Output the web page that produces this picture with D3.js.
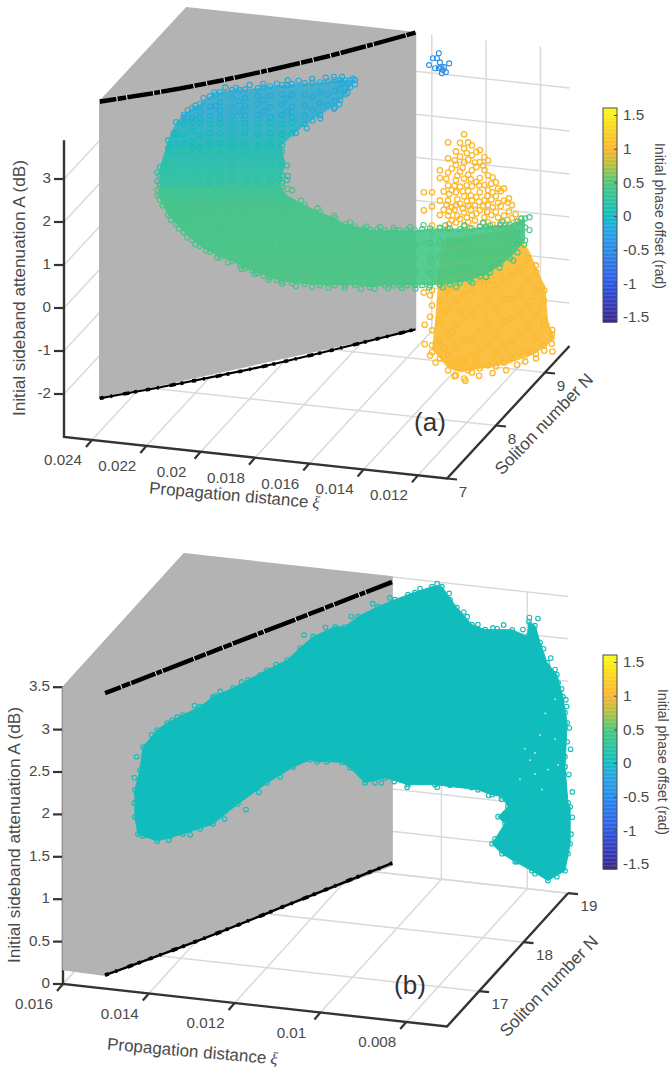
<!DOCTYPE html>
<html>
<head>
<meta charset="utf-8">
<script src="https://cdn.jsdelivr.net/npm/d3@7"></script>
<style>
	html, body { margin: 0; padding: 0; background: #fff; }
	text { font-family: "Liberation Sans", Arial, sans-serif; fill: #4a4a4a; }
</style>
</head>
<body>
<svg id="chart" width="670" height="1074"></svg>
<script>
// tick labels
var aXiTicks = [0.024, 0.022, 0.02, 0.018, 0.016, 0.014, 0.012];
var aNTicks = [7, 8, 9];
var aATicks = [-2, -1, 0, 1, 2, 3];
var bXiTicks = [0.016, 0.014, 0.012, 0.01, 0.008];
var bNTicks = [17, 18, 19];
var bATicks = [0, 0.5, 1, 1.5, 2, 2.5, 3, 3.5];
var colorbarTicks = [-1.5, -1, -0.5, 0, 0.5, 1, 1.5];

// colormap, phase -> colour
var phaseStops = [-1.6, -1.5, -1, -0.5, -0.15, 0, 0.25, 0.5, 0.75, 1, 1.25, 1.6];
var phaseColors = ['#352a87', '#38299a', '#2f58e4', '#2b8aec', '#22a9df', '#0fbcbe', '#2cc4a0', '#4cc87a', '#b4c042', '#fbb62e', '#fbd024', '#f9fb15'];

// (a) grey shadow sheet and the two black curves: [xi, N, A]
var aGrey = [[0.02503, 7.73, 3.9], [0.02503, 9.5, 3.9], [0.0166, 9.5, 3.9], [0.0166, 9.5, -3], [0.02503, 7.73, -3]];
var aBlackTop = [[0.02503, 7.73, 3.9], [0.02292, 8.17, 3.8], [0.02082, 8.615, 3.77], [0.01871, 9.06, 3.8], [0.0166, 9.5, 3.9]];
var aBlackBottom = [[0.02503, 7.73, -3], [0.02292, 8.17, -3.06], [0.02082, 8.615, -3.09], [0.01871, 9.06, -3.06], [0.0166, 9.5, -3]];

// (a) crescent shaped cloud, sheet N = bandN
var bandN = 8.5;
var bandOutline = [[0.0242, 1.49], [0.0239, 2.13], [0.02361, 2.57], [0.02332, 2.76], [0.02302, 2.94], [0.02273, 3.05], [0.02236, 3.26], [0.02199, 3.38], [0.02155, 3.46], [0.02107, 3.51], [0.0206, 3.57], [0.02015, 3.64], [0.01971, 3.7], [0.01934, 3.75], [0.01887, 3.8], [0.01831, 3.86], [0.01776, 3.95], [0.01702, 4.0],
	[0.01739, 3.62], [0.01776, 3.36], [0.01831, 3.1], [0.01887, 2.83], [0.01934, 2.56], [0.01971, 2.3], [0.0196, 1.84], [0.01978, 1.37], [0.01953, 1.15], [0.01887, 0.97], [0.01831, 0.84], [0.01776, 0.74], [0.01739, 0.62], [0.01702, 0.6], [0.01647, 0.55], [0.01592, 0.58], [0.01537, 0.62], [0.01482, 0.66], [0.01426, 0.74], [0.01353, 0.79], [0.01279, 0.84], [0.01205, 0.96], [0.01132, 1.03], [0.01076, 1.21],
	[0.01076, 0.7], [0.01132, 0.25], [0.01205, -0.13], [0.01279, -0.37], [0.01353, -0.51], [0.01426, -0.58], [0.01482, -0.62], [0.01537, -0.66], [0.01592, -0.7], [0.01647, -0.78], [0.01702, -0.77], [0.01776, -0.82], [0.01831, -0.86], [0.01887, -0.87], [0.01934, -0.88], [0.01971, -0.86], [0.02015, -0.8], [0.0206, -0.73], [0.02107, -0.65], [0.02155, -0.52], [0.02199, -0.46], [0.02236, -0.36], [0.02273, -0.25], [0.02302, -0.13], [0.02332, 0.03], [0.02361, 0.2], [0.0239, 0.39], [0.0242, 0.72]];

// rows are [xi, [A, A, ...]], one list per phase level
var bandBlue = [[0.02332, [2.76, 2.7]], [0.02302, [2.94, 2.72]], [0.02273, [3.05, 2.88, 2.72]], [0.02236, [3.26, 3.02, 2.8]], [0.02199, [3.38, 3.15, 2.95, 2.78]], [0.02155, [3.46, 3.28, 3.05, 2.85]], [0.02107, [3.51, 3.3, 3.12, 2.9]], [0.0206, [3.57, 3.38, 3.2, 2.95]], [0.02015, [3.64, 3.42, 3.15, 2.92]], [0.01971, [3.7, 3.48, 3.24, 3]], [0.01934, [3.75, 3.5, 3.22, 2.98]], [0.01887, [3.8, 3.55, 3.28, 3.05, 2.85]], [0.01831, [3.86, 3.62, 3.38, 3.1]], [0.01776, [3.95, 3.7, 3.46, 3.32]], [0.01739, [3.97, 3.8, 3.64]], [0.01702, [4.0, 3.9]],
	[0.02215, [3.3, 3.05]], [0.02128, [3.48, 3.22, 2.98]], [0.02038, [3.6, 3.3, 3.05]], [0.01952, [3.72, 3.4, 3.1]], [0.01859, [3.83, 3.5, 3.2, 2.95]], [0.01803, [3.9, 3.6, 3.35]], [0.01757, [3.96, 3.75, 3.5]], [0.0172, [3.98, 3.82]],
	[0.02318, [2.88]], [0.0229, [3.0]], [0.0226, [3.2]], [0.0222, [3.36]], [0.0218, [3.5]], [0.0214, [3.52]], [0.0209, [3.62]], [0.0204, [3.68]], [0.0199, [3.72]], [0.0195, [3.82]], [0.0191, [3.84]], [0.0186, [3.92]], [0.0181, [3.98]], [0.0178, [4.02, 3.28]], [0.0175, [3.9, 4.04]], [0.0171, [4.02]], [0.0183, [3.02]], [0.0188, [2.76]], [0.0192, [2.62]], [0.0176, [3.4]], [0.0173, [3.68]]];
var bandCyan = [[0.02361, [2.57, 2.3, 2.05]], [0.0239, [2.13, 1.95]], [0.02332, [2.55, 2.3, 2.1]], [0.02302, [2.6, 2.4, 2.15, 2.0]], [0.02273, [2.6, 2.32, 2.05]], [0.02236, [2.62, 2.4, 2.15]], [0.02199, [2.65, 2.42, 2.2]], [0.02155, [2.7, 2.45, 2.2]], [0.02107, [2.72, 2.5, 2.25]], [0.0206, [2.75, 2.5, 2.25]], [0.02015, [2.8, 2.55, 2.3]], [0.01971, [2.8, 2.55, 2.3]], [0.01934, [2.85, 2.6]], [0.0237, [2.3]]];
var bandTeal = [[0.0242, [1.49, 1.3, 1.1]], [0.0239, [1.8, 1.55, 1.3, 1.12]], [0.02361, [1.85, 1.6, 1.35, 1.15]], [0.02332, [1.88, 1.6, 1.3]], [0.02302, [1.9, 1.65, 1.4, 1.2]], [0.02273, [1.9, 1.65, 1.4, 1.22]], [0.02236, [1.95, 1.7, 1.45, 1.25]], [0.02199, [1.98, 1.7, 1.45, 1.26]], [0.02155, [2, 1.75, 1.5, 1.3]], [0.02107, [2.02, 1.75, 1.5, 1.32]], [0.0206, [2.05, 1.8, 1.55, 1.35]], [0.02015, [2.1, 1.8, 1.55, 1.38]], [0.01971, [2.15, 1.9, 1.6, 1.42]], [0.01953, [1.84, 1.5]], [0.0243, [1.35, 1.15]], [0.024, [1.6]], [0.0195, [1.6]], [0.0198, [1.5]]];
var bandGreen = [[0.0242, [1, 0.85, 0.72]], [0.0239, [0.95, 0.7, 0.55, 0.39]], [0.02361, [1, 0.78, 0.55, 0.35, 0.2]], [0.02332, [1.05, 0.8, 0.55, 0.3, 0.03]], [0.02302, [1.05, 0.75, 0.45, 0.2, -0.13]], [0.02273, [1.1, 0.8, 0.5, 0.2, -0.05, -0.25]], [0.02236, [1.1, 0.85, 0.55, 0.25, 0, -0.36]], [0.02199, [1.12, 0.8, 0.5, 0.2, -0.1, -0.46]], [0.02155, [1.2, 0.9, 0.6, 0.3, 0, -0.3, -0.52]], [0.02107, [1.2, 0.9, 0.55, 0.2, -0.15, -0.45, -0.65]], [0.0206, [1.25, 0.9, 0.6, 0.3, 0, -0.35, -0.73]], [0.02015, [1.3, 1, 0.65, 0.3, -0.05, -0.4, -0.8]], [0.01971, [1.35, 1.05, 0.7, 0.35, 0, -0.4, -0.86]], [0.01934, [1.28, 1, 0.65, 0.3, -0.1, -0.5, -0.88]], [0.01887, [0.97, 0.7, 0.35, 0, -0.4, -0.87]], [0.01831, [0.84, 0.5, 0.15, -0.2, -0.55, -0.86]], [0.01776, [0.74, 0.45, 0.1, -0.3, -0.6, -0.82]], [0.01739, [0.62, 0.3, -0.05, -0.45, -0.8]], [0.01702, [0.6, 0.25, -0.15, -0.5, -0.77]], [0.01647, [0.55, 0.2, -0.2, -0.55, -0.78]], [0.01592, [0.58, 0.2, -0.1, -0.45, -0.7]], [0.01537, [0.62, 0.25, -0.05, -0.4, -0.66]], [0.01482, [0.66, 0.3, 0, -0.3, -0.62]], [0.01426, [0.74, 0.4, 0.05, -0.3, -0.58]], [0.0139, [0.78, 0.45, 0.1, -0.25, -0.55]], [0.01353, [0.79, 0.5, 0.15, -0.2, -0.51]], [0.01316, [0.8, 0.5, 0.2, -0.1, -0.45]], [0.01279, [0.84, 0.55, 0.2, -0.1, -0.37]], [0.01242, [0.9, 0.6, 0.3, 0, -0.25]], [0.01205, [0.96, 0.65, 0.35, 0.05, -0.13]], [0.01168, [1, 0.7, 0.4, 0.1]], [0.01132, [1.03, 0.75, 0.5, 0.25]], [0.01104, [1.12, 0.85, 0.6, 0.4]], [0.01076, [1.21, 1, 0.7]],
	[0.02125, [-0.6]], [0.0208, [-0.7]], [0.0204, [-0.78]], [0.0199, [-0.84]], [0.0167, [0.56]], [0.0162, [0.58]], [0.0156, [0.6, -0.68]], [0.0151, [0.64, -0.64]], [0.01455, [0.7, -0.6]], [0.0122, [0.92]], [0.0115, [1.0]],
	[0.0243, [0.95, 0.82]], [0.0241, [0.6]], [0.0238, [0.28]], [0.0235, [0.1]], [0.0232, [-0.08]], [0.0229, [-0.22]], [0.0225, [-0.34]], [0.0221, [-0.48]], [0.0217, [-0.56]], [0.0212, [-0.68]], [0.0207, [-0.76]], [0.0202, [-0.86]], [0.0197, [-0.92]], [0.0192, [-0.94]], [0.0186, [-0.92]], [0.018, [-0.9]], [0.0174, [-0.86]], [0.0168, [-0.84]], [0.0163, [-0.8]], [0.0158, [-0.76]], [0.0153, [-0.72]], [0.0148, [-0.7]], [0.0143, [-0.64]], [0.0138, [-0.6]], [0.0133, [-0.56]], [0.0127, [-0.42]], [0.0122, [-0.25]], [0.0117, [0]], [0.0112, [0.2]], [0.0108, [0.6]], [0.0106, [0.95, 1.25]], [0.0109, [1.2]], [0.0116, [1.08]], [0.0123, [1.0]], [0.013, [0.9]], [0.0137, [0.85]], [0.0145, [0.8]], [0.015, [0.72]], [0.0156, [0.66]], [0.0161, [0.64]], [0.0166, [0.62]], [0.0172, [0.68]], [0.0178, [0.8]], [0.0184, [0.92]], [0.019, [1.06]], [0.0195, [1.3]]];

// (a) yellow cloud and small blue tuft, further back at N = backN
var backN = 9.3;
var yellowOutline = [[0.01527, -0.59], [0.01258, -0.13], [0.01203, -0.65], [0.01158, -1.27], [0.01147, -1.38], [0.01136, -2.19], [0.0111, -2.6], [0.01184, -3.0], [0.01284, -3.3], [0.01394, -3.5], [0.01457, -3.62], [0.01505, -3.55], [0.01563, -3.15], [0.01552, -2.5]];
var yellowPts = [[0.01593, [0.48, 0.06, -1.85]], [0.01563, [0.5, 0.17, -0.27, -1.13, -1.78, -2.13, -2.71, -3.06, -3.22]], [0.01534, [1.03, 0.85, 0.33, -0.01, -0.32, -2, -2.46, -2.92, -3.34]], [0.01504, [1.7, 1.33, 1.0, 0.7, 0.35, 0, -0.3, -1.74, -2.2, -2.78, -3.25, -3.6]], [0.01475, [1.51, 1.19, 0.84, 0.56, 0.26, -0.14, -1.95, -2.53, -3, -3.39, -3.7]], [0.01445, [1.93, 1.6, 1.28, 0.9, 0.49, 0.11, -0.21, -1.82, -2.35, -2.86, -3.33, -3.75]], [0.01416, [1.69, 1.46, 1.11, 0.74, 0.41, 0.07, -0.24, -1.68, -2.19, -2.79, -3.19, -3.59]], [0.01387, [1.6, 1.32, 0.95, 0.62, 0.2, -0.17, -1.47, -2.01, -2.59, -3.06, -3.47]], [0.01357, [1.38, 1.03, 0.69, 0.34, -0.06, -1.41, -1.87, -2.45, -2.92, -3.38]], [0.01328, [0.89, 0.57, 0.2, -0.18, -1.5, -2.08, -2.67, -3.06, -3.39]], [0.01298, [0.77, 0.49, 0.14, -0.16, -1.35, -1.82, -2.34, -2.88, -3.28]], [0.01269, [0.4, 0.1, -0.18, -1.23, -1.77, -2.23, -2.75, -3.16]], [0.0124, [0.02, -0.21, -1.09, -1.56, -2.07, -2.6, -3]], [0.0121, [-0.79, -1.3, -1.89, -2.42, -2.93]], [0.01181, [-0.94, -1.52, -2.1, -2.63, -3]], [0.01151, [-1.73, -2.31, -2.78]], [0.01122, [-2.5, -2.72]],
	[0.0152, [0.55, 0.12, -2.25, -3.1]], [0.0149, [1.1, 0.6, 0.2, -0.1, -2.7, -3.45]], [0.0146, [1.72, 1.4, 1.05, 0.7, 0.3, -0.05, -2.2, -3.5]], [0.0143, [1.75, 1.35, 1.0, 0.62, 0.28, -0.1, -3.55]], [0.014, [1.55, 1.2, 0.85, 0.5, 0.12, -3.3]], [0.0137, [1.45, 1.15, 0.8, 0.45, 0.05]], [0.0134, [1.0, 0.65, 0.3, -0.1]], [0.0131, [0.7, 0.35, -0.05]], [0.0128, [0.55, 0.25, -0.1]],
	[0.0159, [-2.6, -3.05]], [0.0157, [-1.9, -2.4, -3.3]], [0.0155, [-1.5, -3.45]], [0.0122, [-3.2]], [0.0125, [-3.3]], [0.0129, [-3.45]], [0.0134, [-3.55]], [0.0139, [-3.65]], [0.0144, [-3.8]], [0.0148, [-3.72]], [0.0115, [-1.5, -2.2, -2.9]], [0.0112, [-2.4, -2.9]], [0.0118, [-1.1, -3.1]],
	[0.01255, [0.2, -0.05]], [0.01285, [0.45, 0.05]], [0.0132, [0.75, 0.42, 0.08]], [0.01345, [0.85, 0.48, 0.12]], [0.0136, [0.55, 0.18]], [0.01375, [1.25, 0.3, -0.08]], [0.0139, [0.78, 0.4]], [0.01405, [1.3, 0.3, -0.05]], [0.0142, [0.9, 0.52, 0.18]], [0.01435, [1.5, 0.75, 0.38, 0]], [0.0145, [1.15, 0.6, 0.2]], [0.0147, [0.95, 0.4, 0.02]], [0.0148, [1.3, 0.7, 0.15]], [0.015, [0.5, 0.1, -0.2]], [0.0151, [0.85, 0.25]]];
var tuftPts = [[0.01538, [3.75, 3.4]], [0.0156, [3.62]], [0.01545, [3.63]], [0.01574, [3.45]], [0.01552, [3.39]], [0.01534, [3.54]], [0.015, [3.54]], [0.0153, [3.43]], [0.01523, [3.37]], [0.01512, [3.33]], [0.01527, [3.29]], [0.01519, [3.44]]];

// (b) grey sheet and black curves: [xi, N, A]
var bGrey = [[0.016, 16.28, 3.5], [0.016, 19, 3.5], [0.01115, 19, 3.5], [0.01115, 19, 0.1], [0.01528, 16.53, 0], [0.016, 16.28, 0.17]];
var bBlackTop = [[0.01528, 16.53, 3.325], [0.01115, 19, 3.44]];
var bBlackBottom = [[0.01528, 16.53, 0], [0.01391, 17.35, 0.02], [0.01253, 18.18, 0.07], [0.01115, 19, 0.126]];

// (b) teal cloud outline: [xi, N, A]
var tealOutline = [[0.01547, 17.5, 1.848], [0.0154, 17.5, 2.123], [0.01507, 17.5, 2.342], [0.01484, 17.5, 2.437], [0.01447, 17.5, 2.553], [0.01407, 17.5, 2.673], [0.01377, 17.5, 2.804], [0.0133, 17.5, 2.936], [0.01295, 17.5, 3.051], [0.01251, 17.5, 3.193], [0.01204, 17.5, 3.337], [0.01174, 17.5, 3.495],
	[0.01299, 19, 2.692], [0.01248, 19, 2.838], [0.01225, 19, 2.851], [0.01194, 19, 2.987], [0.01148, 19, 3.131], [0.01108, 19, 3.236], [0.01078, 19, 3.311], [0.01022, 19, 3.437], [0.00999, 19, 3.45], [0.00964, 19, 3.222], [0.00929, 19, 3.041], [0.00898, 19, 2.999], [0.00835, 19, 3.034], [0.008, 19, 2.972], [0.00796, 19, 3.151], [0.00782, 19, 3.112], [0.0077, 19, 2.92], [0.00754, 19, 2.691], [0.00731, 19, 2.562], [0.00717, 19, 2.311], [0.00707, 19, 2.009], [0.00712, 19, 1.488], [0.00705, 19, 1.065], [0.007, 19, 1.022], [0.007, 19, 0.586], [0.00712, 19, 0.262], [0.00752, 19, 0.122], [0.00789, 19, 0.218], [0.00828, 19, 0.302], [0.00859, 19, 0.38], [0.00882, 19, 0.485], [0.00852, 19, 0.737], [0.00868, 19, 0.811], [0.00845, 19, 0.942], [0.00859, 19, 1.052], [0.00882, 19, 1.062], [0.00915, 19, 1.103], [0.01015, 19, 1.106], [0.01078, 19, 1.071], [0.01131, 19, 1.124], [0.01178, 19, 1.038], [0.01213, 19, 1.196], [0.01232, 19, 1.25], [0.01267, 19, 1.236], [0.0129, 19, 1.223], [0.01306, 19, 1.237],
	[0.0119, 17.5, 2.083], [0.01251, 17.5, 1.861], [0.01319, 17.5, 1.576], [0.01377, 17.5, 1.307], [0.01447, 17.5, 1.15], [0.01507, 17.5, 1.034], [0.01552, 17.5, 1.09], [0.01559, 17.5, 1.287], [0.01559, 17.5, 1.606]];
// rim points standing out of the solid mass
var tealRim = [[0.00784, 19, 3.06], [0.00752, 19, 2.645], [0.00728, 19, 2.469], [0.0071, 19, 2.279], [0.00712, 19, 2.125], [0.00707, 19, 1.785], [0.00712, 19, 1.606], [0.01155, 19, 1.05], [0.01038, 19, 1.152], [0.00973, 19, 1.153], [0.00938, 19, 1.172], [0.00833, 19, 0.995], [0.00875, 19, 0.547], [0.00824, 19, 0.305], [0.00782, 19, 0.187], [0.00731, 19, 0.18], [0.00705, 19, 0.466], [0.01062, 19, 3.344], [0.0098, 19, 3.306], [0.0094, 19, 3.129], [0.0087, 19, 3.026], [0.01472, 17.5, 2.48], [0.01372, 17.5, 2.818], [0.01267, 17.5, 3.125], [0.0154, 17.5, 1.073], [0.01477, 17.5, 1.108], [0.01407, 17.5, 1.231],
	[0.00695, 19, 0.9], [0.00698, 19, 0.7], [0.00695, 19, 1.2], [0.00703, 19, 1.4], [0.00699, 19, 1.7], [0.00702, 19, 1.95], [0.00708, 19, 2.2], [0.0072, 19, 2.4], [0.00735, 19, 2.62], [0.00745, 19, 2.75], [0.00762, 19, 2.85], [0.00775, 19, 3.2], [0.00795, 19, 3.2], [0.0081, 19, 3.05], [0.00855, 19, 3.08], [0.0088, 19, 3.03], [0.00915, 19, 3.05], [0.00948, 19, 3.18], [0.00982, 19, 3.38], [0.0101, 19, 3.48], [0.0105, 19, 3.4], [0.0112, 19, 3.25], [0.0116, 19, 3.16], [0.0121, 19, 2.98], [0.0127, 19, 2.82], [0.0132, 19, 2.7], [0.0108, 19, 1.04], [0.0111, 19, 1.09], [0.0114, 19, 1.06], [0.0101, 19, 1.08], [0.0098, 19, 1.12], [0.0093, 19, 1.12], [0.0089, 19, 1.05], [0.0086, 19, 1.02],
	[0.0156, 17.5, 1.45], [0.0156, 17.5, 1.75], [0.01555, 17.5, 2.0], [0.0152, 17.5, 2.28], [0.0146, 17.5, 2.52], [0.0142, 17.5, 2.68], [0.0136, 17.5, 2.88], [0.0131, 17.5, 3.02], [0.0123, 17.5, 3.27], [0.0148, 17.5, 1.06], [0.0143, 17.5, 1.15], [0.0135, 17.5, 1.38], [0.013, 17.5, 1.52], [0.0127, 17.5, 1.74], [0.0122, 17.5, 1.95]];
// holes in the right hand part of the teal mass
var tealGaps = [[0.00782, 19, 1.61], [0.00793, 19, 1.52], [0.0077, 19, 1.83], [0.00758, 19, 2.09], [0.00735, 19, 1.8], [0.00782, 19, 1.36], [0.00752, 19, 1.43], [0.00805, 19, 1.65], [0.00817, 19, 1.28], [0.00735, 19, 2.27], [0.00766, 19, 1.19], [0.00728, 19, 1.5]];

var svg = d3.select('#chart');

var color = d3.scaleLinear().domain(phaseStops).range(phaseColors).clamp(true);

var line = d3.line().x(function(d) { return d[0]; }).y(function(d) { return d[1]; });

// one oblique projection per panel, each data axis gets its own pair of scales
function makeProjection(o) {
	var xiX = d3.scaleLinear().domain(o.xi).range([0, o.xiVec[0]]),
		xiY = d3.scaleLinear().domain(o.xi).range([0, o.xiVec[1]]),
		nX = d3.scaleLinear().domain(o.n).range([0, o.nVec[0]]),
		nY = d3.scaleLinear().domain(o.n).range([0, o.nVec[1]]),
		aY = d3.scaleLinear().domain(o.a).range([0, -o.aLen]);

	return function(d) {
		return [o.origin[0] + xiX(d[0]) + nX(d[1]), o.origin[1] + xiY(d[0]) + nY(d[1]) + aY(d[2])];
	};
}

function gridSegments(o, xiTicks, nTicks, aTicks) {
	var segs = [],
		xi0 = o.xi[0], xi1 = o.xi[1], n0 = o.n[0], n1 = o.n[1], a0 = o.a[0], a1 = o.a[1];
	xiTicks.forEach(function(t) {
		segs.push([[t, n0, a0], [t, n1, a0]]);
		segs.push([[t, n1, a0], [t, n1, a1]]);
	});
	nTicks.forEach(function(t) {
		segs.push([[xi0, t, a0], [xi1, t, a0]]);
		segs.push([[xi0, t, a0], [xi0, t, a1]]);
	});
	aTicks.forEach(function(t) {
		segs.push([[xi0, n0, t], [xi0, n1, t]]);
		segs.push([[xi0, n1, t], [xi1, n1, t]]);
	});
	return segs;
}

function drawFrame(g, o, project, xiTicks, nTicks, aTicks) {
	g.append('g').selectAll('path')
			.data(gridSegments(o, xiTicks, nTicks, aTicks))
		.enter().append('path')
			.attr('d', function(d) { return line(d.map(project)); })
			.attr('stroke', '#dadada')
			.attr('stroke-width', 1.5)
			.attr('fill', 'none');
}

function drawAxes(g, o, project, xiTicks, nTicks, aTicks) {
	var corners = [[o.xi[0], o.n[0], o.a[1]], [o.xi[0], o.n[0], o.a[0]], [o.xi[1], o.n[0], o.a[0]], [o.xi[1], o.n[1], o.a[0]]];
	g.append('path')
		.attr('d', line(corners.map(project)))
		.attr('stroke', '#333')
		.attr('stroke-width', 2.4)
		.attr('fill', 'none');

	function tick(from, dx, dy) {
		var p = project(from);
		g.append('line')
			.attr('x1', p[0]).attr('y1', p[1])
			.attr('x2', p[0] + dx).attr('y2', p[1] + dy)
			.attr('stroke', '#333')
			.attr('stroke-width', 2.2);
		return p;
	}
	function label(p, txt, dx, dy, anchor) {
		g.append('text')
			.attr('x', p[0] + dx).attr('y', p[1] + dy)
			.attr('text-anchor', anchor || 'middle')
			.attr('dominant-baseline', 'middle')
			.attr('font-size', 15.2)
			.text(txt);
	}

	xiTicks.forEach(function(t) {
		var p = tick([t, o.n[0], o.a[0]], -6, 7);
		label(p, String(t), o.xiLabel[0], o.xiLabel[1]);
	});
	nTicks.forEach(function(t) {
		var p = tick([o.xi[1], t, o.a[0]], 10, 1);
		label(p, String(t), o.nLabel[0], o.nLabel[1]);
	});
	aTicks.forEach(function(t) {
		var p = tick([o.xi[0], o.n[0], t], -10, 0);
		label(p, String(t), -13, 0, 'end');
	});
}

function drawSheet(g, project, grey, blackTop, blackBottom, topWidth, bottomWidth) {
	g.append('path')
		.attr('d', line(grey.map(project)) + 'Z')
		.attr('fill', '#b3b3b3')
		.attr('stroke', '#b3b3b3')
		.attr('stroke-width', 1.5);

	var curve = d3.line().x(function(d) { return d[0]; }).y(function(d) { return d[1]; }).curve(d3.curveCatmullRom);
	g.append('path')
		.attr('d', curve(blackTop.map(project)))
		.attr('stroke', '#eee').attr('stroke-width', topWidth).attr('fill', 'none');
	g.append('path')
		.attr('d', curve(blackTop.map(project)))
		.attr('stroke', '#000').attr('stroke-width', topWidth).attr('fill', 'none')
		.attr('stroke-dasharray', '17 1 9 1 26 1 6 1 33 1 12 1');
	g.append('path')
		.attr('d', curve(blackBottom.map(project)))
		.attr('stroke', '#000').attr('stroke-width', bottomWidth).attr('fill', 'none');
	// rough upper side of the bottom curve
	g.append('path')
		.attr('d', curve(blackBottom.map(project)))
		.attr('stroke', '#000').attr('stroke-width', bottomWidth + 1.4).attr('fill', 'none')
		.attr('stroke-dasharray', '4 7 2 11 6 5 3 9');
}

function expand(rows, n) {
	var pts = [];
	rows.forEach(function(r) {
		r[1].forEach(function(a) { pts.push([r[0], n, a]); });
	});
	return pts;
}

function rings(g, project, pts, phase, r, w) {
	g.append('g').selectAll('circle')
			.data(pts)
		.enter().append('circle')
			.attr('cx', function(d) { return project(d)[0]; })
			.attr('cy', function(d) { return project(d)[1]; })
			.attr('r', r)
			.attr('fill', 'none')
			.attr('stroke', color(phase))
			.attr('stroke-width', w);
}

function rotated(x, y, angle, size, txt, italicTail) {
	var t = svg.append('text')
		.attr('transform', 'translate(' + x + ',' + y + ') rotate(' + angle + ')')
		.attr('text-anchor', 'middle')
		.attr('font-size', size)
		.text(txt);
	if (italicTail) {
		t.append('tspan')
			.style('font-family', '"Liberation Serif", serif')
			.style('font-style', 'italic')
			.text(' ' + italicTail);
	}
}

function drawColorbar(top, bottom, titleX, titleY) {
	var scale = d3.scaleLinear().domain([-1.5, 1.5]).range([bottom, top]);
	var levels = d3.range(scale.invert(bottom + 5), scale.invert(top - 7), 0.02);
	var g = svg.append('g');
	g.selectAll('rect')
			.data(levels)
		.enter().append('rect')
			.attr('x', 603)
			.attr('width', 14)
			.attr('y', function(d) { return scale(d) - 1; })
			.attr('height', 1.6)
			.attr('fill', function(d) { return color(d); });
	g.append('rect')
		.attr('x', 603).attr('y', top - 7)
		.attr('width', 14).attr('height', bottom - top + 12)
		.attr('fill', 'none').attr('stroke', '#4a4a4a').attr('stroke-width', 1);
	var axis = d3.axisRight(scale).tickValues(colorbarTicks).tickFormat(String).tickSize(-3).tickPadding(8);
	var ag = g.append('g').attr('transform', 'translate(617,0)').call(axis);
	ag.select('.domain').remove();
	ag.selectAll('line').attr('stroke', '#4a4a4a');
	ag.selectAll('text').attr('font-size', 15.2).attr('x', 6).style('font-family', '"Liberation Sans", Arial, sans-serif').attr('fill', '#4a4a4a');
	rotated(titleX, titleY, 90, 14, 'Initial phase offset (rad)');
}

// panel (a)
var aOpt = {
	origin: [64, 437], xi: [0.02503, 0.01093], n: [7, 9.5], a: [-3, 3.9],
	xiVec: [383, 41.5], nVec: [122.5, -132.5], aLen: 296.7,
	xiLabel: [-29, 21], nLabel: [16, 14]
};
var pa = makeProjection(aOpt);
var ga = svg.append('g');
drawFrame(ga, aOpt, pa, aXiTicks, aNTicks, aATicks);
drawAxes(ga, aOpt, pa, aXiTicks, aNTicks, aATicks);
drawSheet(ga, pa, aGrey, aBlackTop, aBlackBottom, 4.6, 2.2);

var defs = svg.append('defs');
var grad = defs.append('linearGradient').attr('id', 'bandFill').attr('x1', 0).attr('x2', 0).attr('y1', 0).attr('y2', 1);
[[0, -0.12, 0.72], [0.17, -0.1, 0.78], [0.33, 0.04, 0.84], [0.5, 0.25, 0.88], [0.6, 0.4, 0.9], [1, 0.45, 0.9]].forEach(function(s) {
	grad.append('stop').attr('offset', s[0]).attr('stop-color', color(s[1])).attr('stop-opacity', s[2]);
});

ga.append('path')
	.attr('d', line(yellowOutline.map(function(d) { return pa([d[0], backN, d[1]]); })) + 'Z')
	.attr('fill', color(1.02))
	.attr('fill-opacity', 0.9);
rings(ga, pa, expand(yellowPts, backN), 1.03, 2.7, 1.3);
rings(ga, pa, expand(tuftPts, backN), -0.45, 2.5, 1.1);

ga.append('path')
	.attr('d', line(bandOutline.map(function(d) { return pa([d[0], bandN, d[1]]); })) + 'Z')
	.attr('fill', 'url(#bandFill)');
rings(ga, pa, expand(bandBlue, bandN), -0.13, 2.6, 1.1);
rings(ga, pa, expand(bandCyan, bandN), 0, 2.6, 1.1);
rings(ga, pa, expand(bandTeal, bandN), 0.2, 2.6, 1.1);
rings(ga, pa, expand(bandGreen, bandN), 0.42, 2.6, 1.1);

rotated(25, 288, -90, 17.2, 'Initial sideband attenuation A (dB)');
rotated(234, 501, 5, 17, 'Propagation distance', '\u03be');
rotated(548, 428, -46, 17.2, 'Soliton number N');
svg.append('text').attr('x', 430).attr('y', 431).attr('text-anchor', 'middle').attr('font-size', 26).style('fill', '#333').text('(a)');
drawColorbar(115, 317, 655, 216);

// panel (b)
var bOpt = {
	origin: [63, 984], xi: [0.016, 0.00705], n: [16.28, 19], a: [0, 3.5],
	xiVec: [384, 42.5], nVec: [121, -133.3], aLen: 296.8,
	xiLabel: [-29, 21], nLabel: [21, 14]
};
var pb = makeProjection(bOpt);
var gb = svg.append('g');
drawFrame(gb, bOpt, pb, bXiTicks, bNTicks, bATicks);
drawAxes(gb, bOpt, pb, bXiTicks, bNTicks, bATicks);
drawSheet(gb, pb, bGrey, bBlackTop, bBlackBottom, 4.6, 2.4);

gb.append('path')
	.attr('d', line(tealOutline.map(pb)) + 'Z')
	.attr('fill', color(0.02))
	.attr('stroke', color(0.02))
	.attr('stroke-width', 1);
rings(gb, pb, tealOutline, 0.04, 2.3, 1.1);
rings(gb, pb, tealRim, 0.04, 2.3, 1.1);
gb.append('g').selectAll('circle')
		.data(tealGaps)
	.enter().append('circle')
		.attr('cx', function(d) { return pb(d)[0]; })
		.attr('cy', function(d) { return pb(d)[1]; })
		.attr('r', 0.9)
		.attr('fill', '#cfeeee');

rotated(20, 835, -90, 17.2, 'Initial sideband attenuation A (dB)');
rotated(192, 1057, 5, 17, 'Propagation distance', '\u03be');
rotated(553, 990, -46, 17.2, 'Soliton number N');
svg.append('text').attr('x', 410).attr('y', 994).attr('text-anchor', 'middle').attr('font-size', 26).style('fill', '#333').text('(b)');
drawColorbar(662, 864, 658, 762);
</script>
</body>
</html>
